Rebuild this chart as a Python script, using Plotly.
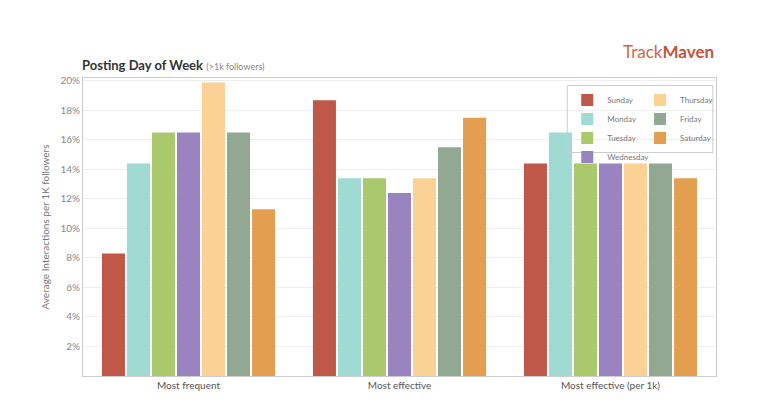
import plotly.graph_objects as go

categories = ["Most frequent", "Most effective", "Most effective (per 1k)"]
days = ["Sunday", "Monday", "Tuesday", "Wednesday", "Thursday", "Friday", "Saturday"]
colors = ["#c0584a", "#9fdad3", "#a9c96c", "#9a84c0", "#fcd196", "#93a893", "#e39f4f"]
sunday = [8.3, 18.7, 14.4]
monday = [14.4, 13.4, 16.5]
tuesday = [16.5, 13.4, 14.4]
wednesday = [16.5, 12.4, 14.4]
thursday = [19.9, 13.4, 14.4]
friday = [16.5, 15.5, 14.4]
saturday = [11.3, 17.5, 13.4]
series = [sunday, monday, tuesday, wednesday, thursday, friday, saturday]
tickvals = [2, 4, 6, 8, 10, 12, 14, 16, 18, 20]
ticktext = ["2%", "4%", "6%", "8%", "10%", "12%", "14%", "16%", "18%", "20%"]

fig = go.Figure()
for i, (d, c, v) in enumerate(zip(days, colors, series)):
    fig.add_bar(x=categories, y=v, name=d, marker_color=c, marker_line_width=0,
                legend="legend" if i < 4 else "legend2")

font = "Lato, Open Sans, sans-serif"
leg = dict(yanchor="top", xanchor="left", bgcolor="rgba(0,0,0,0)", borderwidth=0,
           font=dict(size=8, color="#777"), itemwidth=30, tracegroupgap=0)
fig.update_layout(
    width=760, height=408, barmode="group", bargap=0.17, bargroupgap=0.08,
    paper_bgcolor="white", plot_bgcolor="white",
    margin=dict(l=75, r=52, t=70, b=40),
    font=dict(family=font, color="#666", size=10),
    xaxis=dict(showline=True, linecolor="#ccc", mirror=True, tickfont=dict(size=10, color="#555")),
    yaxis=dict(range=[0, 20.2], tickvals=tickvals, ticktext=ticktext, showgrid=True,
               gridcolor="#eee", showline=True, linecolor="#ccc", mirror=True,
               tickfont=dict(size=10, color="#888"),
               title=dict(text="Average Interactions per 1K followers", font=dict(size=10, color="#777"), standoff=8)),
    legend=dict(leg, x=0.765, y=0.975),
    legend2=dict(leg, x=0.88, y=0.975),
    shapes=[dict(type="rect", xref="paper", yref="paper", x0=0.765, x1=0.995, y0=0.75, y1=0.975,
                 line=dict(color="#ccc", width=1), fillcolor="rgba(0,0,0,0)", layer="above")],
    annotations=[
        dict(text="<b>Posting Day of Week</b> <span style='font-size:9px;color:#888'>(>1k followers)</span>",
             xref="paper", yref="paper", x=-0.005, y=1.01, xanchor="left", yanchor="bottom",
             showarrow=False, font=dict(size=13, color="#333")),
        dict(text="<span style='color:#d06548'>Track</span><b><span style='color:#c5553b'>Maven</span></b>",
             xref="paper", yref="paper", x=1.0, y=1.09, xanchor="right", yanchor="middle",
             showarrow=False, font=dict(size=17)),
    ],
)
fig.write_html("out.html")
